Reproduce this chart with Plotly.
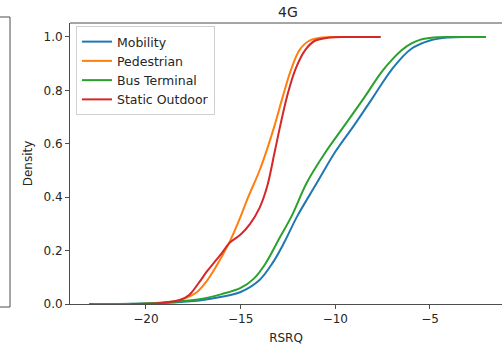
import plotly.graph_objects as go

# Cumulative density curves of RSRQ (dB) per measurement scenario, 4G
series_names = ["Mobility", "Pedestrian", "Bus Terminal", "Static Outdoor"]
series_colors = ["#1f77b4", "#ff7f0e", "#2ca02c", "#d62728"]

mobility_x = [-23.0, -20.0, -18.5, -17.0, -16.0, -15.0, -14.0, -13.3, -12.7, -12.0,
              -11.0, -10.0, -9.0, -8.0, -7.0, -6.0, -5.0, -4.0, -3.0, -2.05]
mobility_y = [0.0, 0.002, 0.006, 0.015, 0.027, 0.045, 0.09, 0.155, 0.23, 0.33,
              0.45, 0.57, 0.67, 0.775, 0.88, 0.955, 0.987, 0.998, 1.0, 1.0]

pedestrian_x = [-20.5, -19.5, -18.7, -18.0, -17.3, -16.8, -16.3, -15.6, -15.1, -14.6,
                -14.0, -13.6, -13.2, -12.8, -12.35, -11.9, -11.4, -10.7, -9.5, -7.7]
pedestrian_y = [0.0, 0.002, 0.008, 0.02, 0.045, 0.085, 0.14, 0.23, 0.31, 0.40,
                0.50, 0.58, 0.67, 0.77, 0.875, 0.95, 0.985, 0.998, 1.0, 1.0]

bus_x = [-22.8, -20.0, -18.5, -17.0, -16.0, -15.0, -14.3, -13.7, -13.0, -12.3,
         -11.5, -10.5, -9.7, -8.5, -7.6, -7.0, -6.5, -6.0, -5.5, -4.8, -4.0, -2.05]
bus_y = [0.0, 0.002, 0.008, 0.02, 0.037, 0.06, 0.095, 0.15, 0.24, 0.33,
         0.455, 0.57, 0.65, 0.77, 0.865, 0.915, 0.95, 0.975, 0.99, 0.998, 1.0, 1.0]

static_x = [-20.8, -19.5, -18.7, -18.2, -17.7, -17.2, -16.8, -16.4, -16.0, -15.6,
            -15.0, -14.5, -14.0, -13.6, -13.2, -12.9, -12.5, -12.1, -11.6, -11.1,
            -10.3, -9.3, -7.6]
static_y = [0.0, 0.002, 0.008, 0.015, 0.035, 0.08, 0.12, 0.155, 0.19, 0.228,
            0.26, 0.30, 0.36, 0.44, 0.57, 0.67, 0.79, 0.88, 0.95, 0.985,
            0.998, 1.0, 1.0]

x_ticks = [-20, -15, -10, -5]
y_ticks = [0.0, 0.2, 0.4, 0.6, 0.8, 1.0]

xs = [mobility_x, pedestrian_x, bus_x, static_x]
ys = [mobility_y, pedestrian_y, bus_y, static_y]

FONT = "DejaVu Sans"
TXT = "#262626"
AX = "#4d4d4d"

fig = go.Figure()
for name, color, x, y in zip(series_names, series_colors, xs, ys):
    fig.add_trace(go.Scatter(
        x=x, y=y, name=name, mode="lines",
        line=dict(color=color, width=2, shape="spline", smoothing=1.0),
    ))

fig.update_layout(
    width=502, height=347,
    margin=dict(l=70, r=0, t=23, b=43),
    paper_bgcolor="white", plot_bgcolor="white",
    font=dict(family=FONT, size=12, color=TXT),
    title=dict(text="4G", x=288 / 502, xanchor="center",
               y=1 - 12 / 347, yanchor="middle",
               font=dict(family=FONT, size=14, color=TXT)),
    showlegend=True,
    legend=dict(
        x=(76 - 70) / 432, y=(304 - 26) / 281, xanchor="left", yanchor="top",
        bgcolor="rgba(255,255,255,0.8)", bordercolor="#d0d0d0", borderwidth=1,
        font=dict(family=FONT, size=12.5, color=TXT),
        itemwidth=30, tracegroupgap=0,
    ),
    xaxis=dict(
        range=[-24.01, -1.196], tickvals=x_ticks,
        ticktext=["\u2212" + str(abs(v)) for v in x_ticks],
        showgrid=False, zeroline=False,
        showline=True, linecolor=AX, linewidth=1, mirror=False,
        ticks="outside", ticklen=4, tickcolor=AX, tickwidth=1,
        tickfont=dict(family=FONT, size=12, color=TXT),
        title=dict(text="RSRQ", standoff=8,
                   font=dict(family=FONT, size=12, color=TXT)),
    ),
    yaxis=dict(
        range=[0, 1.0524], tickvals=y_ticks,
        ticktext=[f"{v:.1f}" for v in y_ticks],
        showgrid=False, zeroline=False,
        showline=True, linecolor=AX, linewidth=1, mirror=False,
        ticks="outside", ticklen=4, tickcolor=AX, tickwidth=1,
        tickfont=dict(family=FONT, size=12, color=TXT),
        title=dict(text="Density", standoff=8,
                   font=dict(family=FONT, size=12, color=TXT)),
    ),
)

# top spine of this panel
fig.add_shape(type="line", xref="paper", yref="paper", x0=0, x1=1, y0=1, y1=1,
              line=dict(color=AX, width=1))

# edge of the neighbouring panel on the left
px = lambda v: (v - 70) / 432
py = lambda v: (304 - v) / 281
for x0, y0, x1, y1 in [(10, 17, 10, 307), (-5, 17, 10, 17), (-5, 307, 10, 307)]:
    fig.add_shape(type="line", xref="paper", yref="paper",
                  x0=px(x0), y0=py(y0), x1=px(x1), y1=py(y1),
                  line=dict(color=AX, width=1))

fig.write_html("out.html")
